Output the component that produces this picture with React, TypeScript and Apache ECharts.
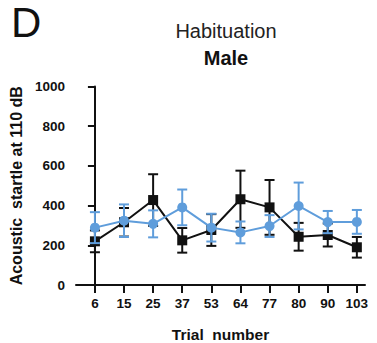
import React, { useEffect, useRef } from "react";
import * as echarts from "echarts";

const trials = ["6", "15", "25", "37", "53", "64", "77", "80", "90", "103"];
const blackMean = [220, 316, 428, 225, 277, 432, 391, 243, 252, 190];
const blackErr = [55, 72, 130, 62, 80, 144, 138, 70, 58, 52];
const blueMean = [289, 324, 308, 391, 289, 265, 297, 398, 317, 318];
const blueErr = [78, 82, 68, 90, 70, 55, 55, 118, 56, 60];

const BLACK = "#111111";
const BLUE = "#5f9ddb";
const FONT = "Liberation Sans, Arial, sans-serif";

function errorSeries(mean: number[], err: number[], color: string, z: number) {
  return {
    type: "custom",
    z,
    silent: true,
    data: mean.map((m, i) => [i, m - err[i], m + err[i]]),
    renderItem: (params: any, api: any) => {
      const x = api.value(0);
      const lo = api.coord([x, api.value(1)]);
      const hi = api.coord([x, api.value(2)]);
      const hw = 5;
      const style = { stroke: color, lineWidth: 2 };
      return {
        type: "group",
        children: [
          { type: "line", shape: { x1: lo[0], y1: lo[1], x2: hi[0], y2: hi[1] }, style },
          { type: "line", shape: { x1: lo[0] - hw, y1: lo[1], x2: lo[0] + hw, y2: lo[1] }, style },
          { type: "line", shape: { x1: hi[0] - hw, y1: hi[1], x2: hi[0] + hw, y2: hi[1] }, style },
        ],
      };
    },
  };
}

export default function App() {
  const ref = useRef<HTMLDivElement>(null);
  useEffect(() => {
    document.body.style.margin = "0";
    const chart = echarts.init(ref.current!, null, { renderer: "svg" });
    const idx = trials.map((_, i) => i);
    chart.setOption({
      animation: false,
      backgroundColor: "#ffffff",
      title: {
        text: "Habituation",
        subtext: "Male",
        left: 221,
        textAlign: "center",
        top: 16,
        itemGap: 7,
        textStyle: { fontFamily: FONT, fontSize: 20, fontWeight: "normal", color: "#222" },
        subtextStyle: { fontFamily: FONT, fontSize: 20, fontWeight: "bold", color: "#111" },
      },
      graphic: [
        {
          type: "text",
          left: 11,
          top: 1,
          style: { text: "D", font: "normal 42px " + FONT, fill: "#111" },
        },
      ],
      grid: { left: 76, right: 12, top: 86.5, bottom: 58, outerBoundsMode: "none", containLabel: false },
      xAxis: {
        type: "value",
        min: -0.65,
        max: 9.28,
        name: "Trial  number",
        nameLocation: "middle",
        nameGap: 41,
        nameTextStyle: { fontFamily: FONT, fontSize: 15.5, fontWeight: "bold", color: "#111" },
        splitLine: { show: false },
        axisLine: { lineStyle: { color: BLACK, width: 2 } },
        axisTick: { customValues: idx, length: 8, lineStyle: { color: BLACK, width: 2 } },
        axisLabel: {
          customValues: idx,
          formatter: (v: number) => trials[Math.round(v)] ?? "",
          fontFamily: FONT,
          fontSize: 13.5,
          fontWeight: "bold",
          color: "#111",
          margin: 11,
        },
      },
      yAxis: {
        type: "value",
        min: 0,
        max: 1000,
        interval: 200,
        name: "Acoustic  startle at 110 dB",
        nameLocation: "middle",
        nameGap: 50,
        nameTextStyle: { fontFamily: FONT, fontSize: 16, fontWeight: "bold", color: "#111" },
        splitLine: { show: false },
        axisLine: { show: true, lineStyle: { color: BLACK, width: 2 } },
        axisTick: { show: true, length: 7, lineStyle: { color: BLACK, width: 2 } },
        axisLabel: {
          formatter: (v: number) => String(v),
          fontFamily: FONT,
          fontSize: 13.5,
          fontWeight: "bold",
          color: "#111",
          margin: 11,
        },
      },
      series: [
        errorSeries(blackMean, blackErr, BLACK, 2),
        {
          type: "line",
          z: 3,
          data: blackMean.map((v, i) => [i, v]),
          symbol: "rect",
          symbolSize: 10,
          lineStyle: { color: BLACK, width: 2 },
          itemStyle: { color: BLACK },
        },
        errorSeries(blueMean, blueErr, BLUE, 4),
        {
          type: "line",
          z: 5,
          data: blueMean.map((v, i) => [i, v]),
          symbol: "circle",
          symbolSize: 10,
          lineStyle: { color: BLUE, width: 2 },
          itemStyle: { color: BLUE },
        },
      ],
    });
    return () => chart.dispose();
  }, []);
  return <div ref={ref} style={{ width: 377, height: 343 }} />;
}
